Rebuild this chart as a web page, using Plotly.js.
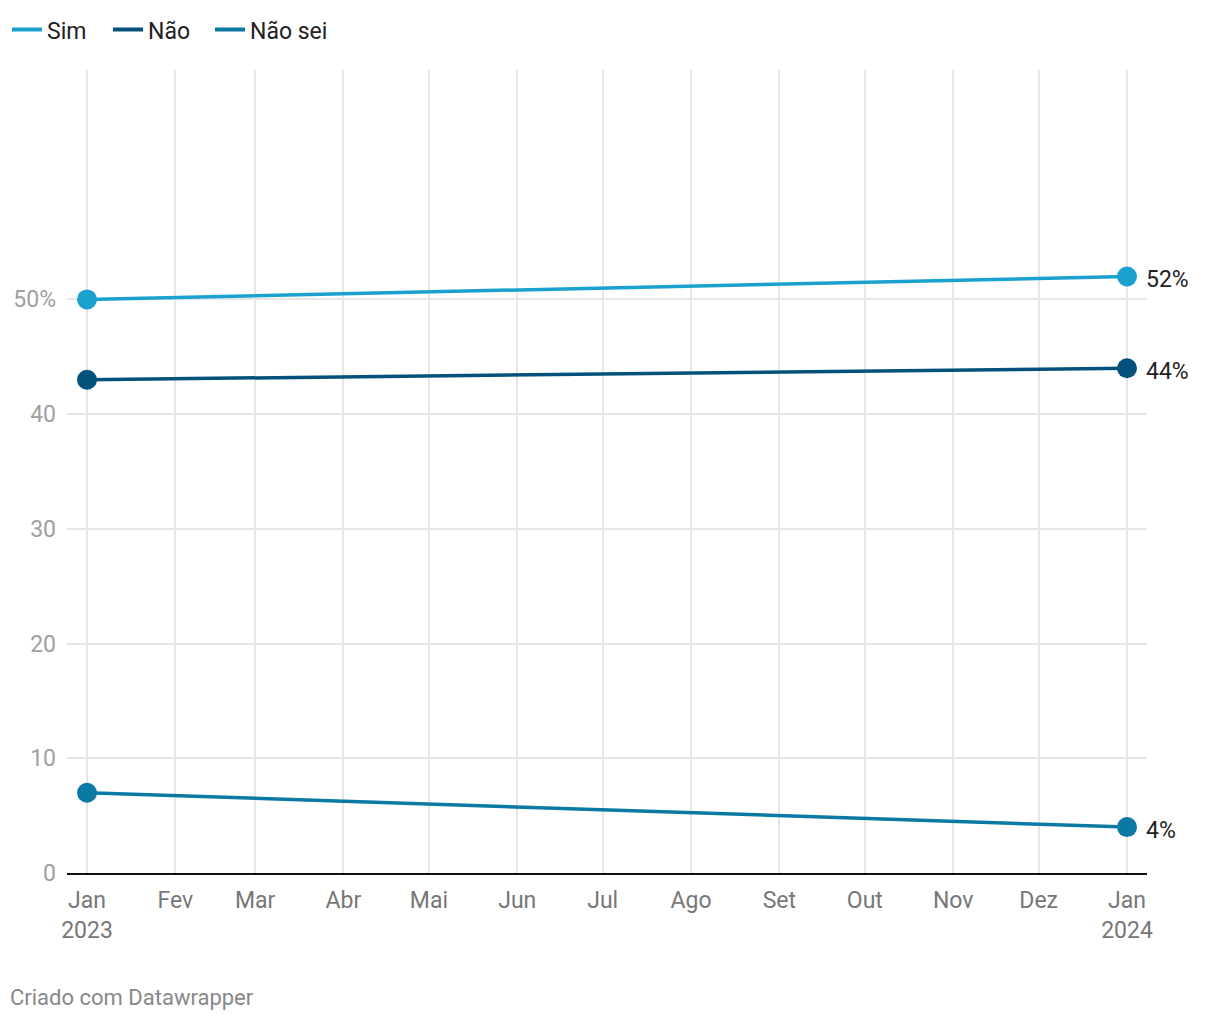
<!DOCTYPE html>
<html>
<head>
<meta charset="utf-8">
<script src="https://cdn.plot.ly/plotly-3.0.1.min.js"></script>
<style>
  html, body { margin: 0; padding: 0; background: #fff; }
  #chart { width: 1220px; height: 1020px; }
</style>
</head>
<body>
<div id="chart"></div>
<script>
// ---- data ----
const dates = ['2023-01-01', '2024-01-01'];
const seriesNames = ['Sim', 'Não', 'Não sei'];
const simValues = [50, 52];
const naoValues = [43, 44];
const naoSeiValues = [7, 4];
const seriesColors = ['#1aa1cf', '#04527c', '#0a79a3'];

const monthTickVals = ['2023-01-01','2023-02-01','2023-03-01','2023-04-01','2023-05-01','2023-06-01',
                       '2023-07-01','2023-08-01','2023-09-01','2023-10-01','2023-11-01','2023-12-01','2024-01-01'];
const monthTickText = ['Jan<br>2023','Fev','Mar','Abr','Mai','Jun','Jul','Ago','Set','Out','Nov','Dez','Jan<br>2024'];
const yTickVals = [0, 10, 20, 30, 40, 50];
const yTickText = ['0', '10', '20', '30', '40', '50%'];
const footerText = 'Criado com Datawrapper';

const allValues = [simValues, naoValues, naoSeiValues];

const FONT = 'Roboto, "Noto Sans", sans-serif';
const legendIds = ['legend', 'legend2', 'legend3'];
const legendX = [7, 108, 210];

const dataTraces = allValues.map((vals, i) => ({
  type: 'scatter',
  mode: 'lines+markers',
  name: seriesNames[i],
  x: dates,
  y: vals,
  line: { color: seriesColors[i], width: 3.5 },
  marker: { color: seriesColors[i], size: 20 },
  cliponaxis: false,
  showlegend: false,
  hoverinfo: 'skip'
}));

// legend entries (line-only swatches, no marks drawn)
const legendTraces = seriesNames.map((name, i) => ({
  type: 'scatter',
  mode: 'lines',
  name: name,
  x: [null],
  y: [null],
  line: { color: seriesColors[i], width: 4 },
  showlegend: true,
  legend: legendIds[i],
  hoverinfo: 'skip'
}));

const endAnnotations = allValues.map((vals, i) => ({
  xref: 'x', yref: 'y',
  x: dates[dates.length - 1],
  y: vals[vals.length - 1],
  text: vals[vals.length - 1] + '%',
  showarrow: false,
  xanchor: 'left',
  yanchor: 'middle',
  xshift: 17,
  yshift: -3,
  font: { family: FONT, size: 23, color: '#222' }
}));

const layout = {
  width: 1220,
  height: 1020,
  paper_bgcolor: '#fff',
  plot_bgcolor: '#fff',
  margin: { l: 67, r: 73, t: 70, b: 147 },
  font: { family: FONT, size: 23, color: '#333' },
  showlegend: true,
  xaxis: {
    type: 'date',
    range: ['2022-12-24 23:32', '2024-01-08 00:28'],
    tickmode: 'array',
    tickvals: monthTickVals,
    ticktext: monthTickText,
    showgrid: true,
    gridcolor: '#e6e6e6',
    gridwidth: 2,
    showline: true,
    linecolor: '#111',
    linewidth: 2,
    ticks: '',
    zeroline: false,
    tickfont: { family: FONT, size: 23, color: '#777' },
    ticklabelstandoff: 5,
    fixedrange: true
  },
  yaxis: {
    range: [0, 70],
    tickmode: 'array',
    tickvals: yTickVals,
    ticktext: yTickText,
    showgrid: true,
    gridcolor: '#e6e6e6',
    gridwidth: 2,
    zeroline: false,
    showline: false,
    ticks: '',
    tickfont: { family: FONT, size: 23, color: '#a0a0a0' },
    ticklabelstandoff: 10,
    fixedrange: true
  },
  annotations: endAnnotations.concat([{
    xref: 'paper', yref: 'paper',
    x: 0, y: 0,
    xanchor: 'left', yanchor: 'middle',
    xshift: -59, yshift: -124,
    text: footerText,
    showarrow: false,
    font: { family: FONT, size: 22, color: '#888' }
  }])
};

legendIds.forEach((id, i) => {
  layout[id] = {
    orientation: 'h',
    xref: 'container', yref: 'container',
    x: legendX[i] / 1220, y: 0.992, xanchor: 'left', yanchor: 'top',
    font: { family: FONT, size: 23, color: '#222' },
    itemwidth: 30,
    bgcolor: 'rgba(0,0,0,0)'
  };
});

Plotly.newPlot('chart', dataTraces.concat(legendTraces), layout, { displayModeBar: false, staticPlot: true });
</script>
</body>
</html>
